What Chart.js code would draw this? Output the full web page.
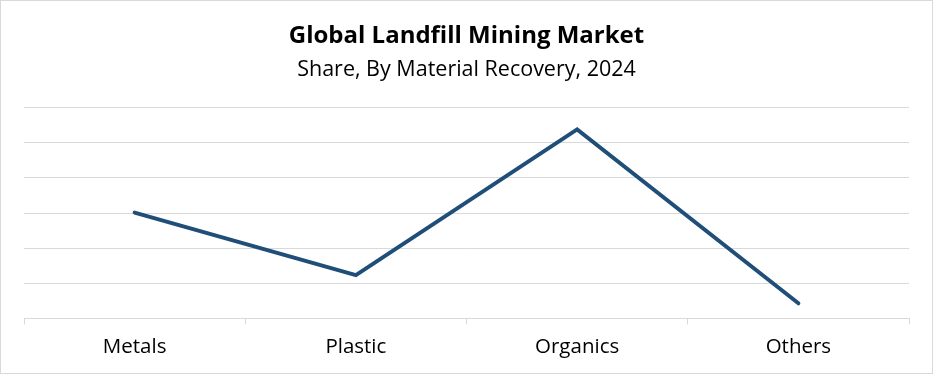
<!DOCTYPE html>
<html>
<head>
<meta charset="utf-8">
<script src="https://cdn.jsdelivr.net/npm/chart.js@4"></script>
<style>
  html, body { margin: 0; padding: 0; background: #fff; }
  #wrap { width: 933px; height: 374px; position: relative; }
</style>
</head>
<body>
<div id="wrap"><canvas id="line" width="933" height="374"></canvas></div>
<script>
var categories = ['Metals', 'Plastic', 'Organics', 'Others'];
var shareValues = [30.1, 12.3, 53.8, 4.3];
var yTicks = [0, 10, 20, 30, 40, 50, 60];

var frame = {
    id: 'frame',
    afterDraw: function (chart) {
        var c = chart.ctx;
        c.save();
        c.strokeStyle = '#d9d9d9';
        c.lineWidth = 1;
        c.strokeRect(0.5, 0.5, chart.width - 1, chart.height - 1);
        c.restore();
    }
};

var ctx = document.getElementById('line').getContext('2d');
var line = new Chart(ctx, {
    type: 'line',
    data: {
        labels: categories,
        datasets: [{
            label: 'Share',
            data: shareValues,
            fill: false,
            borderColor: '#1f4e79',
            borderWidth: 4,
            borderCapStyle: 'round',
            borderJoinStyle: 'miter',
            pointRadius: 0,
            tension: 0
        }]
    },
    options: {
        responsive: false,
        animation: false,
        layout: {
            padding: { top: 22, left: 24, right: 24, bottom: 5 }
        },
        plugins: {
            legend: { display: false },
            tooltip: { enabled: false },
            title: {
                display: true,
                text: 'Global Landfill Mining Market',
                color: '#000',
                font: { family: '"Open Sans", sans-serif', size: 24, weight: 'bold' },
                padding: { top: 0, bottom: 6 }
            },
            subtitle: {
                display: true,
                text: 'Share, By Material Recovery, 2024',
                color: '#000',
                font: { family: '"Open Sans", sans-serif', size: 21.5 },
                padding: { top: 0, bottom: 25 }
            }
        },
        scales: {
            x: {
                offset: true,
                grid: {
                    offset: true,
                    drawOnChartArea: false,
                    color: '#d9d9d9',
                    tickLength: 6
                },
                border: { color: '#d9d9d9', width: 1 },
                ticks: {
                    color: '#000',
                    padding: 10,
                    maxRotation: 0,
                    font: { family: '"Open Sans", sans-serif', size: 20.5 }
                }
            },
            y: {
                min: yTicks[0],
                max: yTicks[yTicks.length - 1],
                afterBuildTicks: function (axis) {
                    axis.ticks = yTicks.map(function (v) { return { value: v }; });
                },
                ticks: { display: false },
                grid: { color: '#d9d9d9', drawTicks: false, lineWidth: 1 },
                border: { display: false }
            }
        }
    },
    plugins: [frame]
});
</script>
</body>
</html>
